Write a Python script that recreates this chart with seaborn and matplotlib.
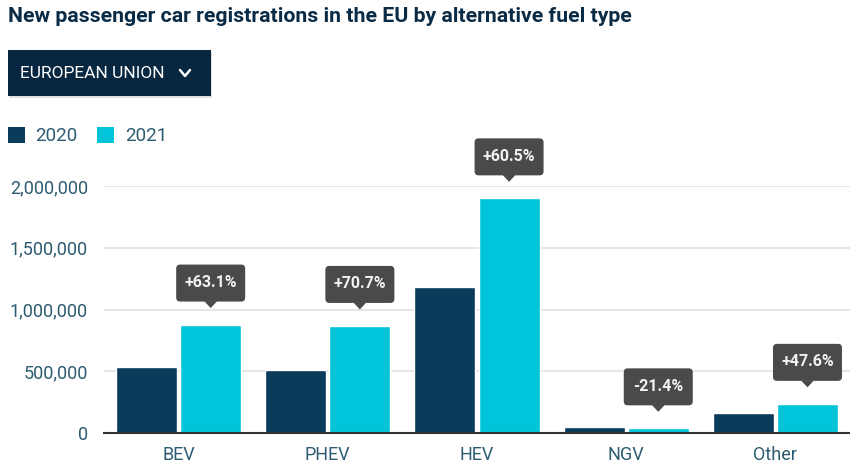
import numpy as np
import pandas as pd
import matplotlib
matplotlib.use("Agg")
import matplotlib.pyplot as plt
import seaborn as sns
from matplotlib.patches import FancyBboxPatch, Patch, Polygon
from matplotlib.lines import Line2D
from matplotlib.transforms import Affine2D, ScaledTranslation
from matplotlib.ticker import FuncFormatter

categories = ["BEV", "PHEV", "HEV", "NGV", "Other"]
years = ["2020", "2021"]
values_2020 = [538000, 508000, 1182000, 48000, 160000]
values_2021 = [878000, 867000, 1900000, 37700, 236000]
change_labels = ["+63.1%", "+70.7%", "+60.5%", "-21.4%", "+47.6%"]
y_ticks = [0, 500000, 1000000, 1500000, 2000000]

df = pd.DataFrame({
    "category": categories * 2,
    "year": [years[0]] * len(categories) + [years[1]] * len(categories),
    "value": values_2020 + values_2021,
})

C2020 = "#0b3b5b"
C2021 = "#00c5da"
NAVY = "#0a2b45"
TICK = "#2d5b70"
BOX = "#4a4a4a"

sns.set_theme(style="white")
plt.rcParams["font.family"] = ["Roboto", "DejaVu Sans"]

fig = plt.figure(figsize=(8.5, 4.72), dpi=100)
ax = fig.add_axes([104 / 850, (472 - 433) / 472, (850 - 104) / 850, (433 - 186) / 472])

sns.barplot(data=df, x="category", y="value", hue="year", order=categories,
            hue_order=years, palette=[C2020, C2021], width=0.86, gap=0.05,
            saturation=1, ax=ax, legend=False, errorbar=None)

ax.set_ylim(0, 2000000)
ax.set_xlim(-0.5, len(categories) - 0.5)
ax.set_yticks(y_ticks)
ax.yaxis.set_major_formatter(FuncFormatter(lambda v, p: f"{int(v):,}"))
ax.grid(axis="y", color="#e2e2e2", linewidth=1.2)
ax.set_axisbelow(True)
for s in ["left", "right", "top"]:
    ax.spines[s].set_visible(False)
ax.spines["bottom"].set_color("#333333")
ax.spines["bottom"].set_linewidth(1.5)
ax.tick_params(axis="y", length=0, pad=11.5, labelsize=13, labelcolor=TICK)
ax.tick_params(axis="x", length=0, pad=9.5, labelsize=13, labelcolor=TICK)
ax.set_xlabel("")
ax.set_ylabel("")

# change annotations above 2021 bars (box geometry in pixels relative to bar top)
bars21 = ax.containers[1]
for bar, lab in zip(bars21, change_labels):
    xc = bar.get_x() + bar.get_width() / 2
    top = bar.get_height()
    tr = Affine2D() + ScaledTranslation(xc, top, ax.transData)
    box = FancyBboxPatch((-34.5, 23), 69, 37,
                         boxstyle="round,pad=0,rounding_size=4",
                         transform=tr, fc=BOX, ec="none", clip_on=False, zorder=5)
    ax.add_artist(box)
    tri = Polygon([(-6.5, 23.5), (6.5, 23.5), (0, 16.5)], closed=True,
                  transform=tr, fc=BOX, ec="none", clip_on=False, zorder=5)
    ax.add_artist(tri)
    ax.annotate(lab, xy=(xc, top), xytext=(0, 42), textcoords="offset pixels",
                ha="center", va="center", color="#f2f2f2", fontsize=11.5,
                fontweight="bold", annotation_clip=False, zorder=6)

# title
fig.text(8 / 850, 1 - 17 / 472, "New passenger car registrations in the EU by alternative fuel type",
         ha="left", va="center", fontsize=15.3, fontweight="bold", color=NAVY)

# dropdown button
shadow = FancyBboxPatch((9 / 850, (472 - 98) / 472), 203 / 850, 46 / 472,
                        boxstyle="square,pad=0", transform=fig.transFigure,
                        fc="#000000", alpha=0.12, ec="none")
fig.patches.append(shadow)
btn = FancyBboxPatch((8 / 850, (472 - 96) / 472), 203 / 850, 46 / 472,
                     boxstyle="square,pad=0", transform=fig.transFigure,
                     fc="#072640", ec="none")
fig.patches.append(btn)
fig.text(20 / 850, 1 - 74 / 472, "EUROPEAN UNION", ha="left", va="center",
         fontsize=12.5, color="white")
fig.add_artist(Line2D([180 / 850, 185 / 850, 190 / 850],
                      [1 - 70 / 472, 1 - 76 / 472, 1 - 70 / 472],
                      transform=fig.transFigure, color="white", linewidth=1.8))

# legend
handles = [Patch(facecolor=C2020, edgecolor="none", label="2020"),
           Patch(facecolor=C2021, edgecolor="none", label="2021")]
leg = fig.legend(handles=handles, loc="center left",
                 bbox_to_anchor=(0.0, 1 - 136 / 472), ncol=2, frameon=False,
                 fontsize=13.5, handlelength=0.95, handleheight=0.95,
                 handletextpad=0.55, columnspacing=1.0, borderaxespad=0)
for t in leg.get_texts():
    t.set_color(TICK)

fig.savefig("out.png", dpi=100)
